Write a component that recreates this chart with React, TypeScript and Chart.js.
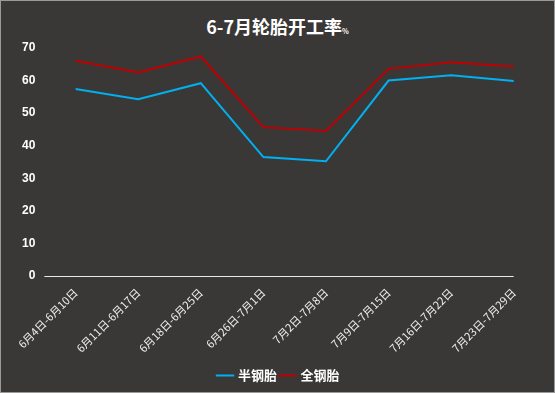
import React, { useEffect, useRef } from "react";
import { Chart, registerables } from "chart.js";

Chart.register(...registerables);

const categories = [
  "6月4日-6月10日",
  "6月11日-6月17日",
  "6月18日-6月25日",
  "6月26日-7月1日",
  "7月2日-7月8日",
  "7月9日-7月15日",
  "7月16日-7月22日",
  "7月23日-7月29日",
];
const semiSteel = [57.4, 54.3, 59.2, 36.5, 35.2, 60.0, 61.6, 59.9];
const allSteel = [66.1, 62.5, 67.4, 45.7, 44.5, 63.6, 65.6, 64.3];
const seriesNames = ["半钢胎", "全钢胎"];
const titleText = "6-7月轮胎开工率";
const titleUnit = "%";

const zeroLine = {
  id: "zeroLine",
  afterDatasetsDraw(chart: any) {
    const x = chart.scales.x;
    const y = chart.scales.y;
    const ctx = chart.ctx;
    const yy = Math.round(y.getPixelForValue(0)) + 0.5;
    ctx.save();
    ctx.strokeStyle = "#e8e8e8";
    ctx.lineWidth = 1;
    ctx.beginPath();
    ctx.moveTo(chart.chartArea.left, yy);
    ctx.lineTo(x.getPixelForValue(categories.length - 1), yy);
    ctx.stroke();
    ctx.restore();
  },
};

export default function App() {
  const ref = useRef<HTMLCanvasElement>(null);
  useEffect(() => {
    document.body.style.margin = "0";
    const chart = new Chart(ref.current!, {
      type: "line",
      data: {
        labels: categories,
        datasets: [
          {
            label: seriesNames[0],
            data: semiSteel,
            borderColor: "#00B0F0",
            backgroundColor: "#00B0F0",
            borderWidth: 2,
            pointRadius: 0,
            tension: 0,
          },
          {
            label: seriesNames[1],
            data: allSteel,
            borderColor: "#C00000",
            backgroundColor: "#C00000",
            borderWidth: 2,
            pointRadius: 0,
            tension: 0,
          },
        ],
      },
      options: {
        animation: false,
        responsive: false,
        layout: { padding: { top: 47, left: 12, right: 9, bottom: 0 } },
        plugins: {
          legend: {
            position: "bottom",
            labels: {
              usePointStyle: true,
              pointStyle: "line",
              boxWidth: 18,
              padding: 4,
              color: "#ffffff",
              font: { family: "'Noto Sans CJK SC', sans-serif", size: 13, weight: "bold" },
            },
          },
          tooltip: { enabled: false },
          title: { display: false },
        },
        scales: {
          x: {
            offset: true,
            grid: { display: false, drawTicks: false },
            border: { display: false },
            ticks: {
              color: "#eeeeee",
              maxRotation: 45,
              minRotation: 45,
              padding: 10,
              autoSkip: false,
              font: { family: "'Noto Sans CJK SC', sans-serif", size: 11 },
            },
          },
          y: {
            min: 0,
            max: 70,
            grid: { display: false, drawTicks: false },
            border: { display: false },
            ticks: {
              stepSize: 10,
              color: "#ffffff",
              padding: 9,
              font: { family: "'Liberation Sans', Arial, sans-serif", size: 12, weight: "bold" },
            },
          },
        },
      },
      plugins: [zeroLine],
    });
    return () => chart.destroy();
  }, []);

  return (
    <div
      style={{
        position: "fixed",
        left: 0,
        top: 0,
        width: 555,
        height: 393,
        boxSizing: "border-box",
        background: "#3a3836",
        border: "1px solid #9a9a9a",
        overflow: "hidden",
      }}
    >
      <div
        style={{
          position: "absolute",
          top: 13,
          left: 0,
          width: "100%",
          textAlign: "center",
          color: "#ffffff",
          fontFamily: "'Noto Sans CJK SC', sans-serif",
          fontWeight: "bold",
          fontSize: 18,
          lineHeight: "24px",
        }}
      >
        {titleText}
        <span style={{ fontSize: 7 }}>{titleUnit}</span>
      </div>
      <canvas ref={ref} width={553} height={391} style={{ position: "absolute", left: 0, top: 0 }} />
    </div>
  );
}
